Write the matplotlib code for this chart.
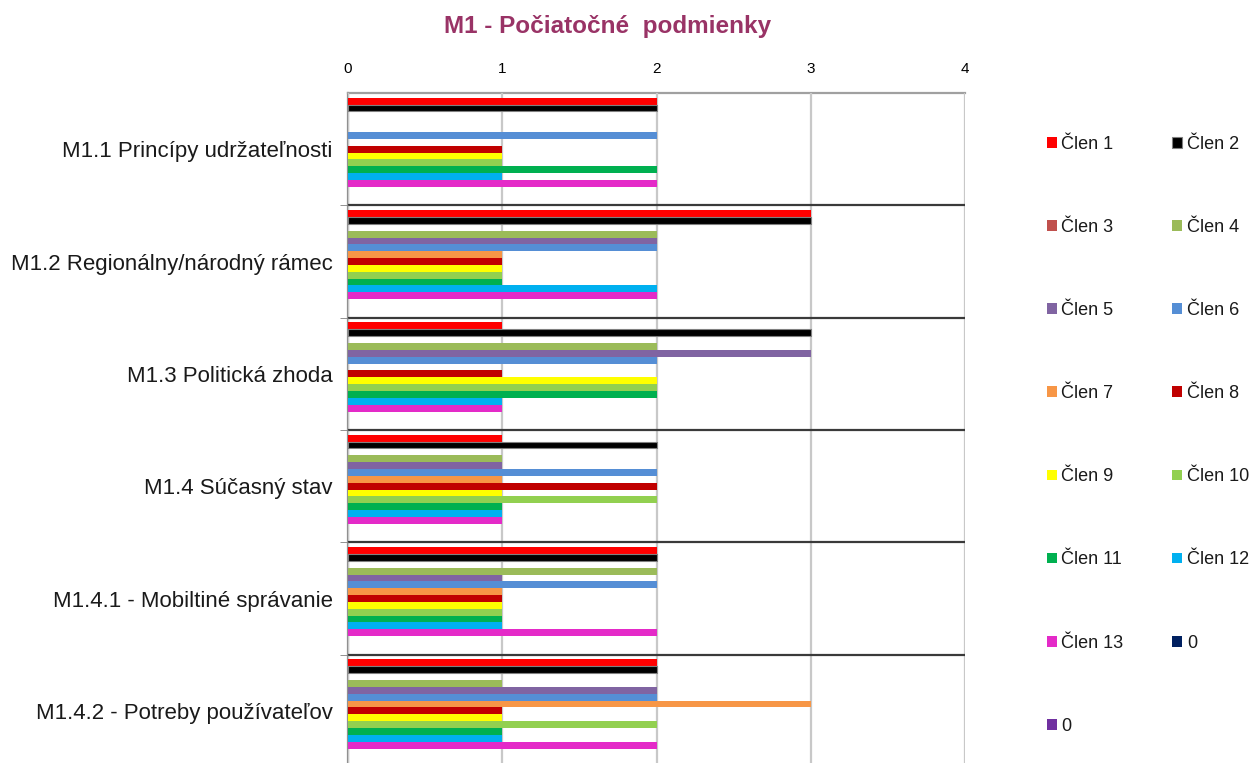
import matplotlib
matplotlib.use('Agg')
import matplotlib.pyplot as plt
import numpy as np

plt.rcParams['font.family'] = ['Liberation Sans', 'DejaVu Sans']

title = "M1 - Počiatočné  podmienky"
categories = ["M1.1 Princípy udržateľnosti",
              "M1.2 Regionálny/národný rámec",
              "M1.3 Politická zhoda",
              "M1.4 Súčasný stav",
              "M1.4.1 - Mobiltiné správanie",
              "M1.4.2 - Potreby používateľov"]
x_ticks = [0, 1, 2, 3, 4]

series_names = ["Člen 1", "Člen 2", "Člen 3", "Člen 4", "Člen 5", "Člen 6", "Člen 7",
                "Člen 8", "Člen 9", "Člen 10", "Člen 11", "Člen 12", "Člen 13", "0", "0"]
clen1 = [2, 3, 1, 1, 2, 2]
clen2 = [2, 3, 3, 2, 2, 2]
clen3 = [0, 0, 0, 0, 0, 0]
clen4 = [0, 2, 2, 1, 2, 1]
clen5 = [0, 2, 3, 1, 1, 2]
clen6 = [2, 2, 2, 2, 2, 2]
clen7 = [0, 1, 0, 1, 1, 3]
clen8 = [1, 1, 1, 2, 1, 1]
clen9 = [1, 1, 2, 1, 1, 1]
clen10 = [1, 1, 2, 2, 1, 2]
clen11 = [2, 1, 2, 1, 1, 1]
clen12 = [1, 2, 1, 1, 1, 1]
clen13 = [2, 2, 1, 1, 2, 2]
zero_a = [0, 0, 0, 0, 0, 0]
zero_b = [0, 0, 0, 0, 0, 0]
series_values = [clen1, clen2, clen3, clen4, clen5, clen6, clen7, clen8, clen9,
                 clen10, clen11, clen12, clen13, zero_a, zero_b]
series_colors = ["#FF0000", "#000000", "#C0504D", "#9BBB59", "#8064A2", "#558ED5",
                 "#F79646", "#C00000", "#FFFF00", "#92D050", "#00B050", "#00B0F0",
                 "#E42AC8", "#002060", "#7030A0"]

fig = plt.figure(figsize=(12.52, 7.63), dpi=100)
ax = fig.add_axes([348/1252, (763-767)/763, (965-348)/1252, (767-93)/763])

n = len(series_values)
h = 0.061
off = (1 - n*h) / 2
ypos = np.arange(len(categories))
handles = []
for j, (vals, name, col) in enumerate(zip(series_values, series_names, series_colors)):
    y = ypos - 0.5 + off + (j + 0.5) * h
    ec = '#808080' if col == '#000000' else col
    b = ax.barh(y, vals, height=h, color=col, edgecolor=ec, linewidth=0.8 if col == '#000000' else 0,
                label=name, zorder=3)
    handles.append(b)

ax.set_xlim(0, 4)
ax.set_ylim(len(categories) - 0.5, -0.5)
ax.xaxis.tick_top()
ax.set_xticks(x_ticks)
ax.set_xticklabels([str(t) for t in x_ticks])
ax.tick_params(axis='x', length=0, pad=12, labelsize=11, colors='#000000')
ax.set_yticks(ypos)
ax.set_yticklabels(categories, fontsize=16, color='#1a1a1a')
ax.tick_params(axis='y', which='major', length=0, pad=11)
ax.set_yticks(np.arange(0.5, len(categories) - 0.5, 1), minor=True)
ax.tick_params(axis='y', which='minor', length=6, color='#808080', direction='out')
ax.grid(axis='y', which='minor', color='#3a3a3a', linewidth=1.6, zorder=4)
ax.grid(axis='y', which='major', visible=False)
ax.grid(axis='x', which='major', color='#C8C8C8', linewidth=1.6, zorder=0)
for s in ['right', 'bottom']:
    ax.spines[s].set_visible(False)
ax.spines['top'].set_color('#A0A0A0')
ax.spines['top'].set_linewidth(1.6)
ax.spines['left'].set_color('#909090')
ax.spines['left'].set_linewidth(1.6)
ax.set_axisbelow(False)

fig.text(608/1252, 1 - 27/763, title, ha='center', va='center', fontsize=17.5,
         fontweight='bold', color='#993366')

# legend: row-wise ordering in two columns
order = list(range(0, n, 2)) + list(range(1, n, 2))
leg = fig.legend([handles[i] for i in order], [series_names[i] for i in order],
                 ncol=2, loc='upper left', bbox_to_anchor=(1047/1252, 1 - 136/763),
                 frameon=False, fontsize=13, handlelength=0.55, handleheight=0.55,
                 handletextpad=0.25, labelspacing=3.66, columnspacing=2.7,
                 borderaxespad=0, borderpad=0)
for t in leg.get_texts():
    t.set_color('#1a1a1a')

fig.savefig('out.png', dpi=100)
